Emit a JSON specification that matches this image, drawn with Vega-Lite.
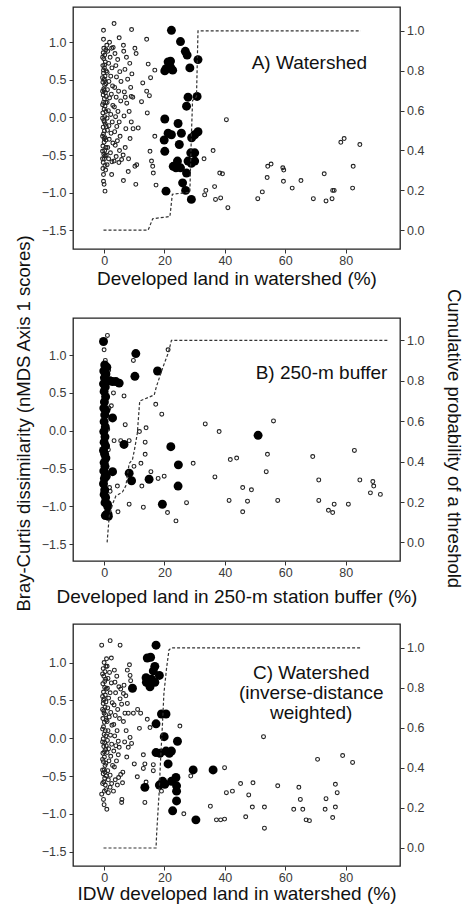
{
"$schema": "https://vega.github.io/schema/vega-lite/v6.json",
"padding": {"left": 13, "top": 6, "right": 0, "bottom": 0},
"background": "white",
"config": {
 "font": "Liberation Sans",
 "view": {"stroke": "#222", "strokeWidth": 1.3},
 "axis": {"labelFont": "Liberation Sans", "labelFontSize": 12.5, "labelColor": "#3a3a3a", "tickColor": "#333", "tickSize": 4, "tickWidth": 1, "domain": false, "grid": false, "titleFont": "Liberation Sans", "titleFontSize": 19, "titleFontWeight": "normal", "titleColor": "#111", "labelFlush": false, "labelOverlap": false}
},
"datasets": {
 "ptsA": [
  {"x":-0.2,"y":1.16,"t":"o"},{"x":3.3,"y":1.25,"t":"o"},{"x":5.0,"y":1.06,"t":"o"},{"x":9.1,"y":1.17,"t":"o"},{"x":14.1,"y":1.04,"t":"o"},{"x":-0.2,"y":1.04,"t":"o"},{"x":0.9,"y":0.96,"t":"o"},{"x":2.5,"y":0.92,"t":"o"},{"x":6.4,"y":0.96,"t":"o"},{"x":10.2,"y":0.92,"t":"o"},{"x":10.6,"y":0.85,"t":"o"},{"x":14.6,"y":0.71,"t":"o"},{"x":16.8,"y":0.63,"t":"o"},{"x":15.4,"y":0.53,"t":"o"},{"x":12.8,"y":0.46,"t":"o"},{"x":14.1,"y":0.35,"t":"o"},{"x":15.0,"y":0.29,"t":"o"},{"x":12.4,"y":0.21,"t":"o"},{"x":14.3,"y":0.06,"t":"o"},{"x":11.3,"y":-0.14,"t":"o"},{"x":16.8,"y":-0.25,"t":"o"},{"x":15.2,"y":-0.45,"t":"o"},{"x":15.7,"y":-0.58,"t":"o"},{"x":16.1,"y":-0.65,"t":"o"},{"x":16.3,"y":-0.74,"t":"o"},{"x":17.2,"y":-0.9,"t":"o"},{"x":10.8,"y":-0.63,"t":"o"},{"x":10.2,"y":-0.65,"t":"o"},{"x":8.0,"y":-0.72,"t":"o"},{"x":6.4,"y":-0.84,"t":"o"},{"x":10.5,"y":-0.89,"t":"o"},{"x":2.5,"y":-0.76,"t":"o"},{"x":-0.2,"y":-0.76,"t":"o"},{"x":-0.2,"y":-0.85,"t":"o"},{"x":0,"y":-0.89,"t":"o"},{"x":0.3,"y":-0.98,"t":"o"},{"x":40.5,"y":-0.03,"t":"o"},{"x":36.1,"y":-0.44,"t":"o"},{"x":33.1,"y":-0.55,"t":"o"},{"x":38.3,"y":-0.74,"t":"o"},{"x":39.2,"y":-0.75,"t":"o"},{"x":33.7,"y":-0.97,"t":"o"},{"x":33.3,"y":-1.03,"t":"o"},{"x":36.6,"y":-0.92,"t":"o"},{"x":36.9,"y":-1.09,"t":"o"},{"x":38.6,"y":-1.07,"t":"o"},{"x":41.0,"y":-1.2,"t":"o"},{"x":50.9,"y":-1.08,"t":"o"},{"x":52.4,"y":-0.99,"t":"o"},{"x":54.0,"y":-0.8,"t":"o"},{"x":54.2,"y":-0.65,"t":"o"},{"x":55.3,"y":-0.62,"t":"o"},{"x":59.2,"y":-0.67,"t":"o"},{"x":59.5,"y":-0.7,"t":"o"},{"x":59.4,"y":-0.85,"t":"o"},{"x":62.3,"y":-0.94,"t":"o"},{"x":65.2,"y":-0.84,"t":"o"},{"x":69.3,"y":-1.08,"t":"o"},{"x":72.9,"y":-0.75,"t":"o"},{"x":73.5,"y":-1.11,"t":"o"},{"x":75.7,"y":-0.97,"t":"o"},{"x":76.2,"y":-0.97,"t":"o"},{"x":75.5,"y":-1.08,"t":"o"},{"x":78.4,"y":-0.33,"t":"o"},{"x":79.5,"y":-0.28,"t":"o"},{"x":84.7,"y":-0.36,"t":"o"},{"x":82.5,"y":-0.65,"t":"o"},{"x":82.3,"y":-0.94,"t":"o"},
  {"x":-0.3,"y":0.86,"t":"o"},{"x":0.2,"y":0.83,"t":"o"},{"x":-0.1,"y":0.78,"t":"o"},{"x":0.4,"y":0.74,"t":"o"},{"x":-0.4,"y":0.69,"t":"o"},{"x":0.1,"y":0.66,"t":"o"},{"x":-0.2,"y":0.59,"t":"o"},{"x":0.3,"y":0.55,"t":"o"},{"x":0,"y":0.51,"t":"o"},{"x":-0.4,"y":0.47,"t":"o"},{"x":0.2,"y":0.43,"t":"o"},{"x":-0.1,"y":0.38,"t":"o"},{"x":0.4,"y":0.33,"t":"o"},{"x":-0.3,"y":0.3,"t":"o"},{"x":0.1,"y":0.25,"t":"o"},{"x":-0.2,"y":0.2,"t":"o"},{"x":0.3,"y":0.15,"t":"o"},{"x":0,"y":0.11,"t":"o"},{"x":-0.4,"y":0.06,"t":"o"},{"x":0.2,"y":0.01,"t":"o"},{"x":-0.1,"y":-0.04,"t":"o"},{"x":0.4,"y":-0.09,"t":"o"},{"x":-0.3,"y":-0.13,"t":"o"},{"x":0.1,"y":-0.18,"t":"o"},{"x":-0.2,"y":-0.22,"t":"o"},{"x":0.3,"y":-0.27,"t":"o"},{"x":0,"y":-0.33,"t":"o"},{"x":-0.4,"y":-0.38,"t":"o"},{"x":0.2,"y":-0.44,"t":"o"},{"x":-0.1,"y":-0.49,"t":"o"},{"x":0.1,"y":-0.55,"t":"o"},{"x":-0.3,"y":-0.6,"t":"o"},{"x":0.3,"y":-0.64,"t":"o"},
  {"x":0.6,"y":0.9,"t":"o"},{"x":-0.5,"y":0.8,"t":"o"},{"x":0.7,"y":0.62,"t":"o"},{"x":-0.5,"y":0.53,"t":"o"},{"x":0.6,"y":0.45,"t":"o"},{"x":-0.5,"y":0.35,"t":"o"},{"x":0.7,"y":0.28,"t":"o"},{"x":-0.5,"y":0.17,"t":"o"},{"x":0.6,"y":0.08,"t":"o"},{"x":-0.5,"y":-0.01,"t":"o"},{"x":0.7,"y":-0.12,"t":"o"},{"x":-0.5,"y":-0.25,"t":"o"},{"x":0.6,"y":-0.3,"t":"o"},{"x":-0.5,"y":-0.45,"t":"o"},{"x":0.7,"y":-0.5,"t":"o"},{"x":-0.5,"y":-0.55,"t":"o"},{"x":0.6,"y":-0.4,"t":"o"},{"x":0.5,"y":0.2,"t":"o"},{"x":-0.1,"y":0.92,"t":"o"},{"x":0.5,"y":-0.7,"t":"o"},{"x":-0.4,"y":-0.68,"t":"o"},{"x":0.2,"y":0.7,"t":"o"},{"x":0.0,"y":0.36,"t":"o"},{"x":0.1,"y":-0.06,"t":"o"},{"x":0.0,"y":-0.28,"t":"o"},{"x":0.2,"y":0.49,"t":"o"},{"x":-0.2,"y":0.63,"t":"o"},{"x":0.3,"y":-0.51,"t":"o"},
  {"x":1.2,"y":0.88,"t":"o"},{"x":2.0,"y":0.8,"t":"o"},{"x":1.5,"y":0.72,"t":"o"},{"x":2.6,"y":0.66,"t":"o"},{"x":1.0,"y":0.6,"t":"o"},{"x":2.2,"y":0.55,"t":"o"},{"x":1.6,"y":0.48,"t":"o"},{"x":2.8,"y":0.42,"t":"o"},{"x":1.1,"y":0.37,"t":"o"},{"x":2.4,"y":0.31,"t":"o"},{"x":1.8,"y":0.26,"t":"o"},{"x":1.0,"y":0.2,"t":"o"},{"x":2.9,"y":0.16,"t":"o"},{"x":1.4,"y":0.09,"t":"o"},{"x":2.2,"y":0.04,"t":"o"},{"x":1.0,"y":-0.01,"t":"o"},{"x":2.7,"y":-0.06,"t":"o"},{"x":1.6,"y":-0.11,"t":"o"},{"x":1.1,"y":-0.17,"t":"o"},{"x":2.3,"y":-0.21,"t":"o"},{"x":1.7,"y":-0.29,"t":"o"},{"x":2.9,"y":-0.34,"t":"o"},{"x":1.2,"y":-0.4,"t":"o"},{"x":2.1,"y":-0.47,"t":"o"},{"x":1.5,"y":-0.55,"t":"o"},{"x":2.6,"y":-0.59,"t":"o"},{"x":1.0,"y":-0.63,"t":"o"},{"x":3.0,"y":0.93,"t":"o"},{"x":1.8,"y":1.0,"t":"o"},
  {"x":3.6,"y":0.85,"t":"o"},{"x":4.5,"y":0.77,"t":"o"},{"x":3.9,"y":0.69,"t":"o"},{"x":5.2,"y":0.61,"t":"o"},{"x":4.1,"y":0.54,"t":"o"},{"x":5.6,"y":0.48,"t":"o"},{"x":3.5,"y":0.4,"t":"o"},{"x":4.8,"y":0.35,"t":"o"},{"x":4.0,"y":0.27,"t":"o"},{"x":5.5,"y":0.22,"t":"o"},{"x":3.4,"y":0.14,"t":"o"},{"x":4.6,"y":0.08,"t":"o"},{"x":3.8,"y":0.01,"t":"o"},{"x":5.0,"y":-0.06,"t":"o"},{"x":4.2,"y":-0.12,"t":"o"},{"x":3.5,"y":-0.19,"t":"o"},{"x":5.3,"y":-0.25,"t":"o"},{"x":4.4,"y":-0.31,"t":"o"},{"x":3.7,"y":-0.37,"t":"o"},{"x":5.1,"y":-0.44,"t":"o"},{"x":4.0,"y":-0.52,"t":"o"},{"x":5.8,"y":-0.56,"t":"o"},{"x":3.3,"y":-0.58,"t":"o"},{"x":4.9,"y":-0.6,"t":"o"},
  {"x":6.5,"y":0.88,"t":"o"},{"x":7.4,"y":0.8,"t":"o"},{"x":8.5,"y":0.72,"t":"o"},{"x":6.9,"y":0.64,"t":"o"},{"x":9.2,"y":0.58,"t":"o"},{"x":7.8,"y":0.51,"t":"o"},{"x":8.8,"y":0.4,"t":"o"},{"x":6.7,"y":0.34,"t":"o"},{"x":9.5,"y":0.27,"t":"o"},{"x":7.5,"y":0.19,"t":"o"},{"x":8.3,"y":0.08,"t":"o"},{"x":6.6,"y":0.02,"t":"o"},{"x":9.0,"y":-0.06,"t":"o"},{"x":7.2,"y":-0.15,"t":"o"},{"x":8.6,"y":-0.28,"t":"o"},{"x":7.0,"y":-0.4,"t":"o"},{"x":9.6,"y":-0.15,"t":"o"},{"x":6.3,"y":-0.5,"t":"o"},{"x":8.1,"y":-0.55,"t":"o"},{"x":7.0,"y":0.27,"t":"o"},{"x":9.0,"y":0.28,"t":"o"},
  {"x":22.3,"y":1.16,"t":"f"},{"x":25.3,"y":1.01,"t":"f"},{"x":26.9,"y":0.88,"t":"f"},{"x":27.5,"y":0.83,"t":"f"},{"x":21.2,"y":0.74,"t":"f"},{"x":22.0,"y":0.75,"t":"f"},{"x":20.5,"y":0.65,"t":"f"},{"x":22.7,"y":0.63,"t":"f"},{"x":22.0,"y":0.67,"t":"f"},{"x":20.1,"y":0.62,"t":"f"},{"x":28.4,"y":0.66,"t":"f"},{"x":31.1,"y":0.77,"t":"f"},{"x":27.8,"y":0.27,"t":"f"},{"x":27.3,"y":0.15,"t":"f"},{"x":30.8,"y":0.28,"t":"f"},{"x":20.1,"y":-0.02,"t":"f"},{"x":24.5,"y":-0.08,"t":"f"},{"x":21.2,"y":-0.21,"t":"f"},{"x":22.3,"y":-0.23,"t":"f"},{"x":19.9,"y":-0.3,"t":"f"},{"x":25.6,"y":-0.21,"t":"f"},{"x":24.9,"y":-0.36,"t":"f"},{"x":20.1,"y":-0.45,"t":"f"},{"x":29.0,"y":-0.27,"t":"f"},{"x":31.1,"y":-0.19,"t":"f"},{"x":30.0,"y":-0.23,"t":"f"},{"x":28.7,"y":-0.47,"t":"f"},{"x":30.0,"y":-0.47,"t":"f"},{"x":24.3,"y":-0.58,"t":"f"},{"x":27.8,"y":-0.58,"t":"f"},{"x":28.9,"y":-0.61,"t":"f"},{"x":30.0,"y":-0.58,"t":"f"},{"x":22.9,"y":-0.65,"t":"f"},{"x":23.8,"y":-0.67,"t":"f"},{"x":25.3,"y":-0.67,"t":"f"},{"x":27.3,"y":-0.74,"t":"f"},{"x":26.0,"y":-0.87,"t":"f"},{"x":20.5,"y":-0.98,"t":"f"},{"x":27.0,"y":-0.97,"t":"f"},{"x":28.9,"y":-1.09,"t":"f"}
 ],
 "ptsB": [
  {"x":1.1,"y":1.26,"t":"o"},{"x":0,"y":1.07,"t":"o"},{"x":9.7,"y":0.93,"t":"o"},{"x":21.2,"y":1.07,"t":"o"},{"x":3.1,"y":0.5,"t":"o"},{"x":6.6,"y":0.46,"t":"o"},{"x":2.4,"y":0.33,"t":"o"},{"x":17.1,"y":0.35,"t":"o"},{"x":19.1,"y":0.22,"t":"o"},{"x":7.0,"y":0.08,"t":"o"},{"x":11.7,"y":-0.01,"t":"o"},{"x":13.9,"y":0.04,"t":"o"},{"x":3.3,"y":-0.13,"t":"o"},{"x":5.5,"y":-0.13,"t":"o"},{"x":8.3,"y":-0.13,"t":"o"},{"x":13.6,"y":-0.15,"t":"o"},{"x":13.6,"y":-0.31,"t":"o"},{"x":12.2,"y":-0.43,"t":"o"},{"x":9.9,"y":-0.47,"t":"o"},{"x":15.5,"y":-0.54,"t":"o"},{"x":12.5,"y":-0.73,"t":"o"},{"x":17.9,"y":-0.63,"t":"o"},{"x":19.9,"y":-0.6,"t":"o"},{"x":4.4,"y":-0.73,"t":"o"},{"x":4.6,"y":-1.07,"t":"o"},{"x":8.3,"y":-0.97,"t":"o"},{"x":13.0,"y":-1.01,"t":"o"},{"x":21.0,"y":-1.08,"t":"o"},{"x":23.8,"y":-1.19,"t":"o"},{"x":27.3,"y":-0.95,"t":"o"},{"x":29.5,"y":-0.43,"t":"o"},{"x":33.5,"y":0.09,"t":"o"},{"x":38.1,"y":-0.01,"t":"o"},{"x":36.7,"y":-0.61,"t":"o"},{"x":41.8,"y":-0.38,"t":"o"},{"x":43.9,"y":-0.36,"t":"o"},{"x":41.4,"y":-0.92,"t":"o"},{"x":45.9,"y":-0.75,"t":"o"},{"x":48.8,"y":-0.78,"t":"o"},{"x":45.9,"y":-1.07,"t":"o"},{"x":47.5,"y":-0.93,"t":"o"},{"x":54.1,"y":-0.31,"t":"o"},{"x":53.7,"y":-0.54,"t":"o"},{"x":56.1,"y":0.13,"t":"o"},{"x":57.5,"y":-0.92,"t":"o"},{"x":69.1,"y":-0.34,"t":"o"},{"x":71.1,"y":-0.65,"t":"o"},{"x":71.1,"y":-0.92,"t":"o"},{"x":74.3,"y":-1.05,"t":"o"},{"x":75.7,"y":-1.08,"t":"o"},{"x":76.2,"y":-0.97,"t":"o"},{"x":80.9,"y":-0.97,"t":"o"},{"x":82.9,"y":-0.26,"t":"o"},{"x":84.7,"y":-0.65,"t":"o"},{"x":89.0,"y":-0.67,"t":"o"},{"x":89.3,"y":-0.73,"t":"o"},{"x":88.2,"y":-0.82,"t":"o"},{"x":91.5,"y":-0.84,"t":"o"},{"x":1.5,"y":0.8,"t":"o"},{"x":1.6,"y":0.3,"t":"o"},{"x":1.4,"y":-0.25,"t":"o"},{"x":1.8,"y":-0.75,"t":"o"},{"x":1.2,"y":0.02,"t":"o"},{"x":0.4,"y":0.93,"t":"o"},{"x":1.0,"y":-0.55,"t":"o"},{"x":2.0,"y":-0.8,"t":"o"},
  {"x":-0.2,"y":1.18,"t":"f"},{"x":10.5,"y":1.02,"t":"f"},{"x":10.2,"y":0.72,"t":"f"},{"x":17.7,"y":0.79,"t":"f"},{"x":2.8,"y":0.17,"t":"f"},{"x":6.6,"y":-0.18,"t":"f"},{"x":22.1,"y":-0.21,"t":"f"},{"x":51.0,"y":-0.06,"t":"f"},{"x":24.6,"y":-0.45,"t":"f"},{"x":8.3,"y":-0.56,"t":"f"},{"x":9.1,"y":-0.66,"t":"f"},{"x":14.9,"y":-0.64,"t":"f"},{"x":24.5,"y":-0.73,"t":"f"},{"x":2.8,"y":-0.54,"t":"f"},{"x":19.3,"y":-0.97,"t":"f"},{"x":1.1,"y":-0.97,"t":"f"},{"x":1.3,"y":-1.1,"t":"f"},{"x":2.8,"y":0.65,"t":"f"},{"x":3.9,"y":0.65,"t":"f"},{"x":5.0,"y":0.63,"t":"f"},{"x":1.9,"y":0.66,"t":"f"},
  {"x":0.2,"y":0.87,"t":"f"},{"x":0.9,"y":0.84,"t":"f"},{"x":-0.1,"y":0.79,"t":"f"},{"x":0.6,"y":0.75,"t":"f"},{"x":0.1,"y":0.7,"t":"f"},{"x":0.8,"y":0.66,"t":"f"},{"x":-0.2,"y":0.62,"t":"f"},{"x":0.4,"y":0.58,"t":"f"},{"x":0.0,"y":0.52,"t":"f"},{"x":0.5,"y":0.45,"t":"f"},{"x":0.1,"y":0.38,"t":"f"},{"x":-0.1,"y":0.3,"t":"f"},{"x":0.6,"y":0.27,"t":"f"},{"x":0.2,"y":0.21,"t":"f"},{"x":0.0,"y":0.12,"t":"f"},{"x":0.4,"y":0.05,"t":"f"},{"x":-0.1,"y":-0.01,"t":"f"},{"x":0.3,"y":-0.08,"t":"f"},{"x":0.0,"y":-0.15,"t":"f"},{"x":0.5,"y":-0.2,"t":"f"},{"x":-0.2,"y":-0.26,"t":"f"},{"x":0.2,"y":-0.31,"t":"f"},{"x":0.6,"y":-0.36,"t":"f"},{"x":0.0,"y":-0.42,"t":"f"},{"x":0.3,"y":-0.47,"t":"f"},{"x":-0.1,"y":-0.53,"t":"f"},{"x":0.4,"y":-0.58,"t":"f"},{"x":0.1,"y":-0.63,"t":"f"},{"x":0.7,"y":-0.6,"t":"f"},{"x":-0.2,"y":-0.7,"t":"f"},{"x":0.2,"y":-0.78,"t":"f"},{"x":0.0,"y":-0.84,"t":"f"},{"x":0.5,"y":-0.88,"t":"f"},{"x":0.3,"y":-0.95,"t":"f"},{"x":1.2,"y":-1.0,"t":"f"},{"x":0.9,"y":-1.1,"t":"f"},{"x":1.4,"y":-1.13,"t":"f"},{"x":0.4,"y":-1.12,"t":"f"}
 ],
 "ptsC": [
  {"x":-0.8,"y":1.23,"t":"o"},{"x":2.0,"y":1.29,"t":"o"},{"x":5.3,"y":1.23,"t":"o"},{"x":8.4,"y":0.97,"t":"o"},{"x":7.7,"y":0.9,"t":"o"},{"x":8.6,"y":0.83,"t":"o"},{"x":8.8,"y":0.76,"t":"o"},{"x":5.5,"y":0.65,"t":"o"},{"x":6.4,"y":0.59,"t":"o"},{"x":8.0,"y":0.33,"t":"o"},{"x":9.7,"y":0.33,"t":"o"},{"x":11.1,"y":0.38,"t":"o"},{"x":12.1,"y":0.33,"t":"o"},{"x":5.8,"y":0.45,"t":"o"},{"x":7.7,"y":0.46,"t":"o"},{"x":6.9,"y":0.33,"t":"o"},{"x":11.7,"y":0.13,"t":"o"},{"x":15.2,"y":0.14,"t":"o"},{"x":14.3,"y":0.25,"t":"o"},{"x":25.1,"y":0.16,"t":"o"},{"x":8.6,"y":0.01,"t":"o"},{"x":8.0,"y":-0.12,"t":"o"},{"x":9.1,"y":-0.07,"t":"o"},{"x":4.7,"y":-0.22,"t":"o"},{"x":10.0,"y":-0.34,"t":"o"},{"x":13.0,"y":-0.22,"t":"o"},{"x":13.5,"y":-0.34,"t":"o"},{"x":16.3,"y":-0.35,"t":"o"},{"x":16.3,"y":-0.43,"t":"o"},{"x":13.0,"y":-0.4,"t":"o"},{"x":11.0,"y":-0.51,"t":"o"},{"x":13.9,"y":-0.58,"t":"o"},{"x":5.5,"y":-0.48,"t":"o"},{"x":6.1,"y":-0.59,"t":"o"},{"x":5.9,"y":-0.81,"t":"o"},{"x":5.8,"y":-0.85,"t":"o"},{"x":3.1,"y":-0.7,"t":"o"},{"x":1.4,"y":-0.72,"t":"o"},{"x":2.0,"y":-0.65,"t":"o"},{"x":-0.8,"y":-0.74,"t":"o"},{"x":-0.2,"y":-0.81,"t":"o"},{"x":0,"y":-0.88,"t":"o"},{"x":0.9,"y":-0.94,"t":"o"},{"x":13.5,"y":-0.85,"t":"o"},{"x":19.0,"y":-0.7,"t":"o"},{"x":28.7,"y":-0.5,"t":"o"},{"x":39.9,"y":-0.39,"t":"o"},{"x":26.4,"y":-1.0,"t":"o"},{"x":35.2,"y":-0.9,"t":"o"},{"x":37.2,"y":-1.08,"t":"o"},{"x":38.6,"y":-1.08,"t":"o"},{"x":39.9,"y":-1.07,"t":"o"},{"x":40.5,"y":-0.72,"t":"o"},{"x":42.5,"y":-0.7,"t":"o"},{"x":45.2,"y":-0.6,"t":"o"},{"x":49.3,"y":-0.59,"t":"o"},{"x":47.9,"y":-0.75,"t":"o"},{"x":49.1,"y":-0.91,"t":"o"},{"x":53.1,"y":-0.91,"t":"o"},{"x":46.9,"y":-1.04,"t":"o"},{"x":53.1,"y":-1.19,"t":"o"},{"x":52.8,"y":0.02,"t":"o"},{"x":57.5,"y":-0.63,"t":"o"},{"x":62.8,"y":-0.94,"t":"o"},{"x":64.5,"y":-0.65,"t":"o"},{"x":65.0,"y":-0.81,"t":"o"},{"x":65.8,"y":-0.94,"t":"o"},{"x":66.9,"y":-1.08,"t":"o"},{"x":68.0,"y":-1.09,"t":"o"},{"x":70.7,"y":-0.28,"t":"o"},{"x":73.2,"y":-0.94,"t":"o"},{"x":73.5,"y":-0.8,"t":"o"},{"x":75.7,"y":-1.05,"t":"o"},{"x":76.6,"y":-0.61,"t":"o"},{"x":77.2,"y":-0.72,"t":"o"},{"x":76.6,"y":-0.91,"t":"o"},{"x":79.0,"y":-0.23,"t":"o"},{"x":82.3,"y":-0.32,"t":"o"},
  {"x":-0.3,"y":0.92,"t":"o"},{"x":0.3,"y":0.88,"t":"o"},{"x":-0.1,"y":0.82,"t":"o"},{"x":0.5,"y":0.78,"t":"o"},{"x":-0.4,"y":0.72,"t":"o"},{"x":0.2,"y":0.67,"t":"o"},{"x":-0.2,"y":0.61,"t":"o"},{"x":0.4,"y":0.57,"t":"o"},{"x":0,"y":0.52,"t":"o"},{"x":-0.3,"y":0.46,"t":"o"},{"x":0.3,"y":0.41,"t":"o"},{"x":-0.1,"y":0.36,"t":"o"},{"x":0.5,"y":0.31,"t":"o"},{"x":-0.4,"y":0.26,"t":"o"},{"x":0.1,"y":0.21,"t":"o"},{"x":-0.2,"y":0.15,"t":"o"},{"x":0.4,"y":0.1,"t":"o"},{"x":0,"y":0.05,"t":"o"},{"x":-0.3,"y":-0.01,"t":"o"},{"x":0.2,"y":-0.06,"t":"o"},{"x":-0.1,"y":-0.11,"t":"o"},{"x":0.5,"y":-0.15,"t":"o"},{"x":-0.4,"y":-0.2,"t":"o"},{"x":0.1,"y":-0.25,"t":"o"},{"x":-0.2,"y":-0.31,"t":"o"},{"x":0.3,"y":-0.36,"t":"o"},{"x":0,"y":-0.42,"t":"o"},{"x":-0.3,"y":-0.47,"t":"o"},{"x":0.2,"y":-0.53,"t":"o"},{"x":-0.1,"y":-0.58,"t":"o"},{"x":0.4,"y":-0.62,"t":"o"},
  {"x":0.6,"y":0.95,"t":"o"},{"x":-0.5,"y":0.85,"t":"o"},{"x":0.7,"y":0.65,"t":"o"},{"x":-0.5,"y":0.55,"t":"o"},{"x":0.6,"y":0.48,"t":"o"},{"x":-0.5,"y":0.38,"t":"o"},{"x":0.7,"y":0.24,"t":"o"},{"x":-0.5,"y":0.12,"t":"o"},{"x":0.6,"y":0.03,"t":"o"},{"x":-0.5,"y":-0.05,"t":"o"},{"x":0.7,"y":-0.1,"t":"o"},{"x":-0.5,"y":-0.28,"t":"o"},{"x":0.6,"y":-0.33,"t":"o"},{"x":-0.5,"y":-0.42,"t":"o"},{"x":0.7,"y":-0.5,"t":"o"},{"x":-0.5,"y":-0.6,"t":"o"},{"x":0.6,"y":-0.68,"t":"o"},{"x":0.2,"y":0.75,"t":"o"},{"x":0.0,"y":0.33,"t":"o"},{"x":0.1,"y":-0.18,"t":"o"},{"x":-0.2,"y":0.5,"t":"o"},{"x":0.3,"y":-0.45,"t":"o"},{"x":0.0,"y":1.0,"t":"o"},{"x":0.1,"y":-0.7,"t":"o"},
  {"x":1.0,"y":0.95,"t":"o"},{"x":1.8,"y":0.87,"t":"o"},{"x":1.3,"y":0.79,"t":"o"},{"x":2.4,"y":0.73,"t":"o"},{"x":1.1,"y":0.66,"t":"o"},{"x":2.0,"y":0.6,"t":"o"},{"x":1.5,"y":0.53,"t":"o"},{"x":2.7,"y":0.47,"t":"o"},{"x":1.2,"y":0.4,"t":"o"},{"x":2.2,"y":0.34,"t":"o"},{"x":1.7,"y":0.28,"t":"o"},{"x":1.0,"y":0.22,"t":"o"},{"x":2.6,"y":0.17,"t":"o"},{"x":1.3,"y":0.1,"t":"o"},{"x":2.1,"y":0.04,"t":"o"},{"x":1.1,"y":-0.03,"t":"o"},{"x":2.5,"y":-0.08,"t":"o"},{"x":1.5,"y":-0.14,"t":"o"},{"x":1.0,"y":-0.19,"t":"o"},{"x":2.2,"y":-0.24,"t":"o"},{"x":1.6,"y":-0.3,"t":"o"},{"x":2.8,"y":-0.36,"t":"o"},{"x":1.2,"y":-0.43,"t":"o"},{"x":2.0,"y":-0.49,"t":"o"},{"x":1.4,"y":-0.55,"t":"o"},{"x":2.5,"y":-0.6,"t":"o"},
  {"x":3.4,"y":0.9,"t":"o"},{"x":4.2,"y":0.82,"t":"o"},{"x":3.6,"y":0.74,"t":"o"},{"x":4.9,"y":0.68,"t":"o"},{"x":3.8,"y":0.6,"t":"o"},{"x":5.3,"y":0.52,"t":"o"},{"x":3.3,"y":0.44,"t":"o"},{"x":4.5,"y":0.38,"t":"o"},{"x":3.7,"y":0.3,"t":"o"},{"x":5.1,"y":0.26,"t":"o"},{"x":3.2,"y":0.18,"t":"o"},{"x":4.3,"y":0.1,"t":"o"},{"x":3.5,"y":0.03,"t":"o"},{"x":4.7,"y":-0.04,"t":"o"},{"x":3.9,"y":-0.1,"t":"o"},{"x":3.2,"y":-0.17,"t":"o"},{"x":5.0,"y":-0.12,"t":"o"},{"x":4.1,"y":-0.3,"t":"o"},{"x":3.4,"y":-0.38,"t":"o"},{"x":4.8,"y":-0.52,"t":"o"},{"x":3.7,"y":-0.55,"t":"o"},{"x":4.4,"y":-0.62,"t":"o"},{"x":6.6,"y":0.7,"t":"o"},{"x":7.2,"y":0.56,"t":"o"},{"x":6.4,"y":0.22,"t":"o"},{"x":7.3,"y":0.1,"t":"o"},{"x":6.8,"y":-0.05,"t":"o"},{"x":7.5,"y":-0.25,"t":"o"},{"x":6.2,"y":-0.45,"t":"o"},{"x":2.4,"y":1.06,"t":"o"},{"x":0.8,"y":1.05,"t":"o"},
  {"x":17.2,"y":1.23,"t":"f"},{"x":14.3,"y":1.06,"t":"f"},{"x":15.4,"y":1.07,"t":"f"},{"x":16.8,"y":0.95,"t":"f"},{"x":16.3,"y":0.89,"t":"f"},{"x":13.9,"y":0.8,"t":"f"},{"x":15.7,"y":0.78,"t":"f"},{"x":14.9,"y":0.72,"t":"f"},{"x":14.0,"y":0.74,"t":"f"},{"x":16.8,"y":0.74,"t":"f"},{"x":18.3,"y":0.83,"t":"f"},{"x":15.2,"y":0.68,"t":"f"},{"x":9.4,"y":0.66,"t":"f"},{"x":19.0,"y":0.32,"t":"f"},{"x":20.5,"y":0.32,"t":"f"},{"x":17.2,"y":0.19,"t":"f"},{"x":19.9,"y":0.02,"t":"f"},{"x":24.3,"y":-0.04,"t":"f"},{"x":17.2,"y":-0.19,"t":"f"},{"x":18.5,"y":-0.2,"t":"f"},{"x":20.5,"y":-0.17,"t":"f"},{"x":21.6,"y":-0.2,"t":"f"},{"x":22.3,"y":-0.17,"t":"f"},{"x":21.2,"y":-0.34,"t":"f"},{"x":29.5,"y":-0.42,"t":"f"},{"x":36.1,"y":-0.42,"t":"f"},{"x":13.5,"y":-0.65,"t":"f"},{"x":19.4,"y":-0.57,"t":"f"},{"x":20.1,"y":-0.61,"t":"f"},{"x":22.3,"y":-0.57,"t":"f"},{"x":23.8,"y":-0.52,"t":"f"},{"x":24.0,"y":-0.63,"t":"f"},{"x":24.0,"y":-0.7,"t":"f"},{"x":24.0,"y":-0.83,"t":"f"},{"x":22.7,"y":-0.96,"t":"f"},{"x":30.4,"y":-1.08,"t":"f"},{"x":18.3,"y":-0.62,"t":"f"}
 ],
 "cdfA": [{"i":0,"x":-0.2,"v":0},{"i":1,"x":14.6,"v":0},{"i":2,"x":16.1,"v":0.057},{"i":3,"x":21.8,"v":0.068},{"i":4,"x":22.6,"v":0.18},{"i":5,"x":28.4,"v":0.19},{"i":6,"x":28.9,"v":0.47},{"i":7,"x":29.3,"v":0.65},{"i":8,"x":30.6,"v":0.67},{"i":9,"x":31.1,"v":1.0},{"i":10,"x":85,"v":1.0}],
 "cdfB": [{"i":0,"x":1.0,"v":0},{"i":1,"x":1.7,"v":0.13},{"i":2,"x":2.8,"v":0.19},{"i":3,"x":3.9,"v":0.23},{"i":4,"x":6.1,"v":0.25},{"i":5,"x":7.2,"v":0.28},{"i":6,"x":8.3,"v":0.39},{"i":7,"x":9.4,"v":0.41},{"i":8,"x":10.2,"v":0.47},{"i":9,"x":11.0,"v":0.54},{"i":10,"x":11.8,"v":0.7},{"i":11,"x":16.6,"v":0.73},{"i":12,"x":17.3,"v":0.77},{"i":13,"x":19.3,"v":0.86},{"i":14,"x":21.3,"v":0.94},{"i":15,"x":22.3,"v":1.0},{"i":16,"x":94,"v":1.0}],
 "cdfC": [{"i":0,"x":-0.2,"v":0},{"i":1,"x":17.2,"v":0},{"i":2,"x":17.4,"v":0.07},{"i":3,"x":18.2,"v":0.27},{"i":4,"x":18.7,"v":0.44},{"i":5,"x":19.3,"v":0.61},{"i":6,"x":19.8,"v":0.77},{"i":7,"x":20.7,"v":0.9},{"i":8,"x":21.5,"v":0.99},{"i":9,"x":22.3,"v":1.0},{"i":10,"x":85,"v":1.0}]
},
"spacing": 69,
"bounds": "flush",
"vconcat": [
 {
  "width": 327, "height": 242,
  "layer": [
   {"layer": [
    {"data": {"name": "ptsA"}, "transform": [{"filter": "datum.t == 'o'"}],
     "mark": {"type": "point", "shape": "circle", "filled": false, "size": 15, "stroke": "#222", "strokeWidth": 1.1, "opacity": 1},
     "encoding": {
      "x": {"field": "x", "type": "quantitative", "scale": {"domain": [-10.3, 98], "nice": false, "zero": false}, "axis": {"values": [0, 20, 40, 60, 80], "format": "d", "labelPadding": 1, "title": "Developed land in watershed (%)", "titlePadding": 3}},
      "y": {"field": "y", "type": "quantitative", "scale": {"domain": [-1.75, 1.47], "nice": false, "zero": false}, "axis": {"orient": "left", "values": [-1.5, -1, -0.5, 0, 0.5, 1], "format": ".1f", "labelPadding": 3, "title": null}}}},
    {"data": {"name": "ptsA"}, "transform": [{"filter": "datum.t == 'f'"}],
     "mark": {"type": "circle", "size": 80, "color": "#000", "opacity": 1},
     "encoding": {
      "x": {"field": "x", "type": "quantitative", "scale": {"domain": [-10.3, 98], "nice": false, "zero": false}},
      "y": {"field": "y", "type": "quantitative", "scale": {"domain": [-1.75, 1.47], "nice": false, "zero": false}}}},
    {"data": {"values": [{"x": 68, "y": 0.72, "label": "A) Watershed"}]},
     "mark": {"type": "text", "fontSize": 19, "font": "Liberation Sans", "align": "center", "baseline": "middle", "color": "#111"},
     "encoding": {
      "x": {"field": "x", "type": "quantitative", "scale": {"domain": [-10.3, 98], "nice": false, "zero": false}},
      "y": {"field": "y", "type": "quantitative", "scale": {"domain": [-1.75, 1.47], "nice": false, "zero": false}},
      "text": {"field": "label"}}}
   ]},
   {"data": {"name": "cdfA"},
    "mark": {"type": "line", "strokeDash": [3, 2], "color": "#333", "strokeWidth": 1.2},
    "encoding": {
     "x": {"field": "x", "type": "quantitative", "scale": {"domain": [-10.3, 98], "nice": false, "zero": false}},
     "y": {"field": "v", "type": "quantitative", "scale": {"domain": [-0.095, 1.12], "nice": false, "zero": false}, "axis": {"orient": "right", "values": [0, 0.2, 0.4, 0.6, 0.8, 1], "format": ".1f", "labelPadding": 2.5, "title": null}},
     "order": {"field": "i", "type": "quantitative"}}}
  ],
  "resolve": {"scale": {"y": "independent"}}
 },
 {
  "spacing": 63,
  "bounds": "flush",
  "vconcat": [
   {
    "width": 327, "height": 243,
    "layer": [
     {"layer": [
      {"data": {"name": "ptsB"}, "transform": [{"filter": "datum.t == 'o'"}],
       "mark": {"type": "point", "shape": "circle", "filled": false, "size": 15, "stroke": "#222", "strokeWidth": 1.1, "opacity": 1},
       "encoding": {
        "x": {"field": "x", "type": "quantitative", "scale": {"domain": [-10.3, 98], "nice": false, "zero": false}, "axis": {"values": [0, 20, 40, 60, 80], "format": "d", "labelPadding": 1, "title": "Developed land in 250-m station buffer (%)", "titlePadding": 9}},
        "y": {"field": "y", "type": "quantitative", "scale": {"domain": [-1.72, 1.49], "nice": false, "zero": false}, "axis": {"orient": "left", "values": [-1.5, -1, -0.5, 0, 0.5, 1], "format": ".1f", "labelPadding": 3, "title": "Bray-Curtis dissimilarity (nMDS Axis 1 scores)", "titleFontSize": 18.5, "titleX": -44, "titleY": 105, "titleBaseline": "alphabetic", "titleAlign": "center", "titleAngle": 270}}}},
      {"data": {"name": "ptsB"}, "transform": [{"filter": "datum.t == 'f'"}],
       "mark": {"type": "circle", "size": 80, "color": "#000", "opacity": 1},
       "encoding": {
        "x": {"field": "x", "type": "quantitative", "scale": {"domain": [-10.3, 98], "nice": false, "zero": false}},
        "y": {"field": "y", "type": "quantitative", "scale": {"domain": [-1.72, 1.49], "nice": false, "zero": false}}}},
      {"data": {"values": [{"x": 72, "y": 0.76, "label": "B) 250-m buffer"}]},
       "mark": {"type": "text", "fontSize": 19, "font": "Liberation Sans", "align": "center", "baseline": "middle", "color": "#111"},
       "encoding": {
        "x": {"field": "x", "type": "quantitative", "scale": {"domain": [-10.3, 98], "nice": false, "zero": false}},
        "y": {"field": "y", "type": "quantitative", "scale": {"domain": [-1.72, 1.49], "nice": false, "zero": false}},
        "text": {"field": "label"}}}
     ]},
     {"data": {"name": "cdfB"},
      "mark": {"type": "line", "strokeDash": [3, 2], "color": "#333", "strokeWidth": 1.2},
      "encoding": {
       "x": {"field": "x", "type": "quantitative", "scale": {"domain": [-10.3, 98], "nice": false, "zero": false}},
       "y": {"field": "v", "type": "quantitative", "scale": {"domain": [-0.092, 1.111], "nice": false, "zero": false}, "axis": {"orient": "right", "values": [0, 0.2, 0.4, 0.6, 0.8, 1], "format": ".1f", "labelPadding": 2.5, "title": "Cumulative probability of a threshold", "titleFontSize": 18.5, "titleX": 47, "titleY": 120, "titleBaseline": "alphabetic", "titleAlign": "center", "titleAngle": 90}},
       "order": {"field": "i", "type": "quantitative"}}}
    ],
    "resolve": {"scale": {"y": "independent"}}
   },
   {
    "width": 327, "height": 242,
    "layer": [
     {"layer": [
      {"data": {"name": "ptsC"}, "transform": [{"filter": "datum.t == 'o'"}],
       "mark": {"type": "point", "shape": "circle", "filled": false, "size": 15, "stroke": "#222", "strokeWidth": 1.1, "opacity": 1},
       "encoding": {
        "x": {"field": "x", "type": "quantitative", "scale": {"domain": [-10.3, 98], "nice": false, "zero": false}, "axis": {"values": [0, 20, 40, 60, 80], "format": "d", "labelPadding": 1, "title": "IDW developed land in watershed (%)", "titlePadding": 1}},
        "y": {"field": "y", "type": "quantitative", "scale": {"domain": [-1.69, 1.51], "nice": false, "zero": false}, "axis": {"orient": "left", "values": [-1.5, -1, -0.5, 0, 0.5, 1], "format": ".1f", "labelPadding": 3, "title": null}}}},
      {"data": {"name": "ptsC"}, "transform": [{"filter": "datum.t == 'f'"}],
       "mark": {"type": "circle", "size": 80, "color": "#000", "opacity": 1},
       "encoding": {
        "x": {"field": "x", "type": "quantitative", "scale": {"domain": [-10.3, 98], "nice": false, "zero": false}},
        "y": {"field": "y", "type": "quantitative", "scale": {"domain": [-1.69, 1.51], "nice": false, "zero": false}}}},
      {"data": {"values": [{"x": 68.6, "y": 0.864, "label": "C) Watershed\n(inverse-distance\nweighted)"}]},
       "mark": {"type": "text", "fontSize": 19, "font": "Liberation Sans", "align": "center", "baseline": "middle", "color": "#111", "lineBreak": "\n", "lineHeight": 20},
       "encoding": {
        "x": {"field": "x", "type": "quantitative", "scale": {"domain": [-10.3, 98], "nice": false, "zero": false}},
        "y": {"field": "y", "type": "quantitative", "scale": {"domain": [-1.69, 1.51], "nice": false, "zero": false}},
        "text": {"field": "label"}}}
     ]},
     {"data": {"name": "cdfC"},
      "mark": {"type": "line", "strokeDash": [3, 2], "color": "#333", "strokeWidth": 1.2},
      "encoding": {
       "x": {"field": "x", "type": "quantitative", "scale": {"domain": [-10.3, 98], "nice": false, "zero": false}},
       "y": {"field": "v", "type": "quantitative", "scale": {"domain": [-0.09, 1.119], "nice": false, "zero": false}, "axis": {"orient": "right", "values": [0, 0.2, 0.4, 0.6, 0.8, 1], "format": ".1f", "labelPadding": 2.5, "title": null}},
       "order": {"field": "i", "type": "quantitative"}}}
    ],
    "resolve": {"scale": {"y": "independent"}}
   }
  ]
 }
]
}
